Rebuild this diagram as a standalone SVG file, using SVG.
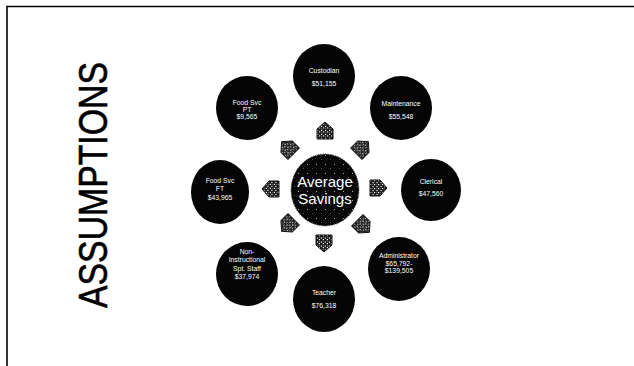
<svg xmlns="http://www.w3.org/2000/svg" width="634" height="366" viewBox="0 0 634 366">
<style>
.node{fill:#050505}
.lbl{font-family:"Liberation Sans",Arial,sans-serif;font-size:6.8px;fill:#fff;text-anchor:middle}
.ctr{font-family:"Liberation Sans",Arial,sans-serif;font-size:15px;fill:#fff;text-anchor:middle}
.arr{fill:url(#dither);stroke:#111;stroke-width:1}
</style>
<defs>
<pattern id="dither" width="4" height="4" patternUnits="userSpaceOnUse">
<rect width="4" height="4" fill="#1a1a1a"/>
<rect x="0" y="0" width="1.2" height="1.2" fill="#fff"/>
<rect x="2.5" y="2" width="1.2" height="1.2" fill="#eee"/>
<rect x="2" y="0.3" width="0.8" height="0.8" fill="#888"/>
</pattern>
<pattern id="speckle" width="9" height="9" patternUnits="userSpaceOnUse">
<rect width="9" height="9" fill="#070707"/>
<rect x="1" y="2" width="0.8" height="0.8" fill="#fff"/>
<rect x="6" y="6" width="0.6" height="0.6" fill="#ccc"/>
</pattern>
<polygon id="arrow" points="-8,-8 2,-8 9,0 2,8 -8,8"/>
</defs>
<rect width="634" height="366" fill="#fff"/>
<g id="frame" fill="none" stroke="#000" stroke-width="1.6">
<polyline points="7,366 7,6.5 634,6.5"/>
</g>
<g id="title">
<text transform="translate(107,185) rotate(-90)" font-family="'Liberation Sans',Arial,sans-serif" font-size="40" text-anchor="middle" textLength="246" lengthAdjust="spacingAndGlyphs" fill="#000" stroke="#000" stroke-width="0.6">ASSUMPTIONS</text>
</g>
<g id="connectors">
<use href="#arrow" class="arr" transform="translate(325,131) rotate(-90)"/>
<use href="#arrow" class="arr" transform="translate(362,148) rotate(-45)"/>
<use href="#arrow" class="arr" transform="translate(378,188)"/>
<use href="#arrow" class="arr" transform="translate(363,226) rotate(45)"/>
<use href="#arrow" class="arr" transform="translate(324,243) rotate(90)"/>
<use href="#arrow" class="arr" transform="translate(288,225) rotate(135)"/>
<use href="#arrow" class="arr" transform="translate(271,189) rotate(180)"/>
<use href="#arrow" class="arr" transform="translate(288,148) rotate(-135)"/>
</g>
<g id="center">
<ellipse cx="325" cy="190" rx="34" ry="36" fill="url(#speckle)" stroke="#444" stroke-width="1" stroke-dasharray="1 1.5"/>
<text class="ctr" x="325" y="187">Average</text>
<text class="ctr" x="325" y="204">Savings</text>
</g>
<g id="custodian">
<ellipse class="node" cx="324" cy="76" rx="31" ry="32"/>
<text class="lbl" x="324" y="72.5">Custodian</text>
<text class="lbl" x="324" y="85.5">$51,155</text>
</g>
<g id="maintenance">
<ellipse class="node" cx="401" cy="108" rx="31" ry="32"/>
<text class="lbl" x="401" y="105.5">Maintenance</text>
<text class="lbl" x="401" y="118.5">$55,548</text>
</g>
<g id="clerical">
<ellipse class="node" cx="431" cy="190" rx="30" ry="31"/>
<text class="lbl" x="431" y="184">Clerical</text>
<text class="lbl" x="431" y="195.5">$47,560</text>
</g>
<g id="administrator">
<ellipse class="node" cx="399" cy="269" rx="31" ry="32"/>
<text class="lbl" x="399" y="257.5">Administrator</text>
<text class="lbl" x="399" y="265.5">$65,792-</text>
<text class="lbl" x="399" y="272.5">$139,505</text>
</g>
<g id="teacher">
<ellipse class="node" cx="324" cy="299" rx="31" ry="33"/>
<text class="lbl" x="324" y="295">Teacher</text>
<text class="lbl" x="324" y="307.5">$76,318</text>
</g>
<g id="non-instructional">
<ellipse class="node" cx="247" cy="274" rx="31" ry="32"/>
<text class="lbl" x="247" y="253.5">Non-</text>
<text class="lbl" x="247" y="262">Instructional</text>
<text class="lbl" x="247" y="270.5">Spt. Staff</text>
<text class="lbl" x="247" y="279">$37,974</text>
</g>
<g id="food-svc-ft">
<ellipse class="node" cx="220" cy="192" rx="29" ry="32"/>
<text class="lbl" x="220" y="182.5">Food Svc</text>
<text class="lbl" x="220" y="190.5">FT</text>
<text class="lbl" x="220" y="199.5">$43,965</text>
</g>
<g id="food-svc-pt">
<ellipse class="node" cx="247" cy="108" rx="31" ry="32"/>
<text class="lbl" x="247" y="104.5">Food Svc</text>
<text class="lbl" x="247" y="111.5">PT</text>
<text class="lbl" x="247" y="118.5">$9,565</text>
</g>
</svg>
